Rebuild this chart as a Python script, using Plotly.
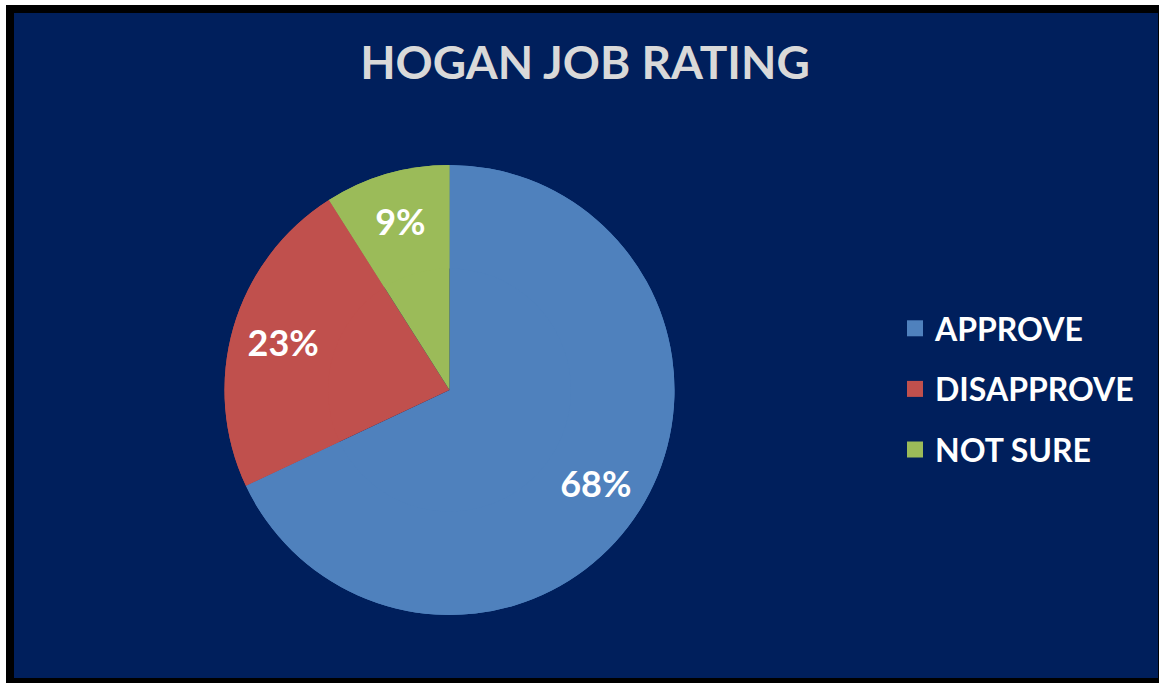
import plotly.graph_objects as go

categories = ["APPROVE", "DISAPPROVE", "NOT SURE"]
values = [68, 23, 9]
colors = ["#4F81BD", "#C0504D", "#9BBB59"]
title_text = "HOGAN JOB RATING"

W, H = 1159, 683
NAVY = "#001F5C"
FONT = "Lato"

def px_x(x):
    return x / W

def px_y(y):
    return 1 - y / H

pie_domain = dict(x=[px_x(224), px_x(675)], y=[px_y(615), px_y(165)])

fig = go.Figure()

# full pie (slices)
fig.add_trace(go.Pie(
    labels=categories,
    values=values,
    sort=False,
    direction="clockwise",
    rotation=0,
    marker=dict(colors=colors, line=dict(width=0)),
    textinfo="none",
    showlegend=False,
    hoverinfo="label+percent",
    domain=pie_domain,
))

# ring overlay carrying the percentage labels further out, like Excel
fig.add_trace(go.Pie(
    labels=categories,
    values=values,
    sort=False,
    direction="clockwise",
    rotation=0,
    hole=0.54,
    marker=dict(colors=colors, line=dict(width=0)),
    texttemplate="%{percent:.0%}",
    textposition="inside",
    insidetextorientation="horizontal",
    textfont=dict(family=FONT, size=36, color="white", weight="bold"),
    showlegend=False,
    hoverinfo="skip",
    domain=pie_domain,
))

for i, (name, col) in enumerate(zip(categories, colors)):
    fig.add_trace(go.Scatter(
        x=[None], y=[None], mode="markers", name=name,
        marker=dict(symbol="square", size=20, color=col),
        legendgroup=f"g{i}", showlegend=True,
    ))

fig.update_layout(
    width=W, height=H,
    margin=dict(l=0, r=0, t=0, b=0),
    paper_bgcolor="white",
    plot_bgcolor="rgba(0,0,0,0)",
    xaxis=dict(visible=False),
    yaxis=dict(visible=False),
    title=dict(
        text=f"<b>{title_text}</b>",
        x=px_x(585), xanchor="center",
        y=px_y(63), yanchor="middle",
        font=dict(family=FONT, size=46, color="#D9D9D9"),
    ),
    legend=dict(
        x=px_x(895), xanchor="left",
        y=px_y(389), yanchor="middle",
        font=dict(family=FONT, size=32, color="white", weight="bold"),
        bgcolor="rgba(0,0,0,0)",
        tracegroupgap=16,
        itemsizing="trace",
    ),
    shapes=[
        dict(type="rect", xref="paper", yref="paper",
             x0=px_x(6), x1=px_x(1159), y0=px_y(683), y1=px_y(5),
             fillcolor="black", line=dict(width=0), layer="below"),
        dict(type="rect", xref="paper", yref="paper",
             x0=px_x(14), x1=px_x(1158), y0=px_y(678), y1=px_y(13),
             fillcolor=NAVY, line=dict(width=0), layer="below"),
    ],
)

fig.write_html(
    "out.html",
    config={"displayModeBar": False},
    post_script="document.body.style.margin='0';document.body.style.overflow='hidden';",
)
